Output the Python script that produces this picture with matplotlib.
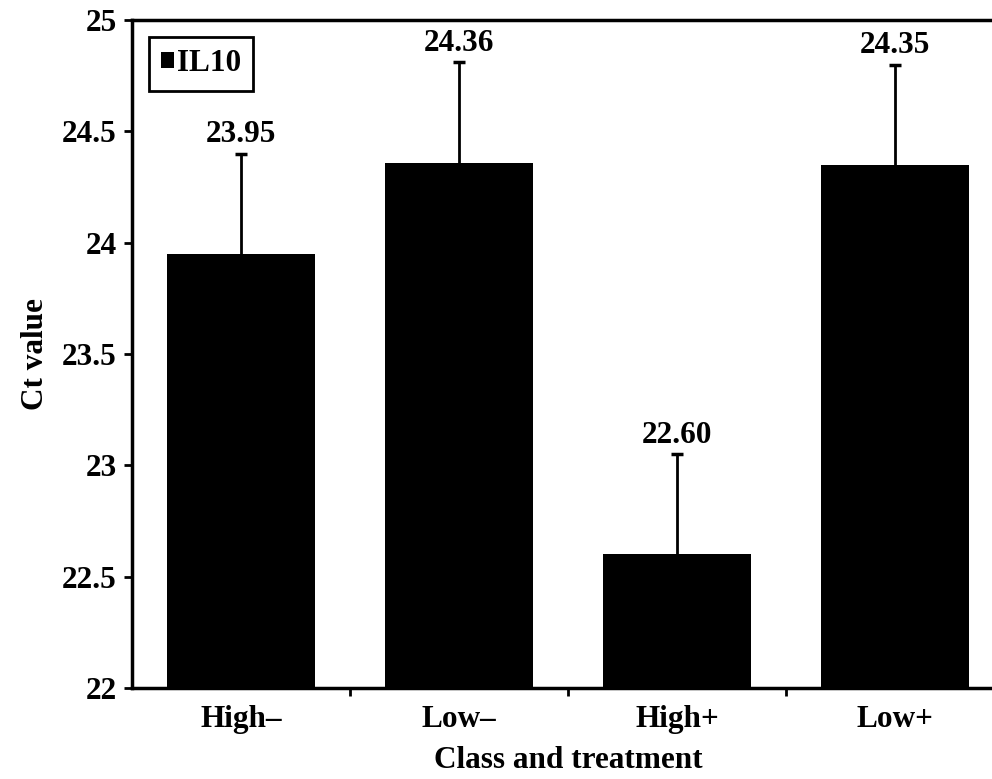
import numpy as np
import matplotlib
matplotlib.use("Agg")
import matplotlib.pyplot as plt
from matplotlib.ticker import FixedLocator

# data
groups = ["High\u2013", "Low\u2013", "High+", "Low+"]
ct_mean = [23.95, 24.36, 22.60, 24.35]
ct_err = [0.45, 0.45, 0.45, 0.45]
value_labels = ["23.95", "24.36", "22.60", "24.35"]
y_ticks = [22, 22.5, 23, 23.5, 24, 24.5, 25]
y_tick_labels = ["22", "22.5", "23", "23.5", "24", "24.5", "25"]

FS = 22.5

plt.rcParams["font.family"] = ["Liberation Serif", "DejaVu Serif"]
plt.rcParams["font.weight"] = "bold"

fig = plt.figure(figsize=(9.92, 7.79), dpi=100)
ax = fig.add_axes([0.1331, 0.1168, 0.879, 0.8575])

x = np.arange(len(groups))
bars = ax.bar(x, ct_mean, width=0.68, color="black", label="IL10", zorder=2)
eb = ax.errorbar(x, ct_mean, yerr=[np.zeros(len(ct_err)), ct_err], fmt="none",
                 ecolor="black", elinewidth=2, capsize=4, capthick=2.5, zorder=3)
# only the upper cap is shown
eb[1][0].set_visible(False)

for xi, m, e, lab in zip(x, ct_mean, ct_err, value_labels):
    ax.annotate(lab, (xi, m + e), xytext=(0, 3), textcoords="offset points",
                ha="center", va="bottom", fontsize=FS, fontweight="bold")

ax.set_xlim(-0.5, 3.5)
ax.set_ylim(22, 25)
ax.set_yticks(y_ticks)
ax.set_yticklabels(y_tick_labels, fontsize=FS, fontweight="bold")

ax.xaxis.set_major_locator(FixedLocator([0.5, 1.5, 2.5]))
ax.xaxis.set_minor_locator(FixedLocator(list(x)))
ax.set_xticklabels([])
ax.set_xticklabels(groups, minor=True, fontsize=FS, fontweight="bold")
ax.tick_params(axis="x", which="major", direction="out", length=6, width=2)
ax.tick_params(axis="x", which="minor", length=0, pad=12)
ax.tick_params(axis="y", direction="out", length=6, width=2, pad=5)

ax.spines["right"].set_visible(False)
for s in ["left", "bottom", "top"]:
    ax.spines[s].set_linewidth(2.5)

ax.set_xlabel("Class and treatment", fontsize=FS, fontweight="bold", labelpad=9)
ax.set_ylabel("Ct value", fontsize=FS, fontweight="bold", labelpad=9)

leg = ax.legend(loc="upper left", bbox_to_anchor=(0.019, 0.975), fontsize=FS,
                handlelength=0.4, handleheight=0.4, handletextpad=0.1,
                fancybox=False, edgecolor="black", framealpha=1,
                borderpad=0.4, borderaxespad=0)
leg.get_frame().set_linewidth(2)
for t in leg.get_texts():
    t.set_fontweight("bold")

fig.savefig("out.png", dpi=100)
